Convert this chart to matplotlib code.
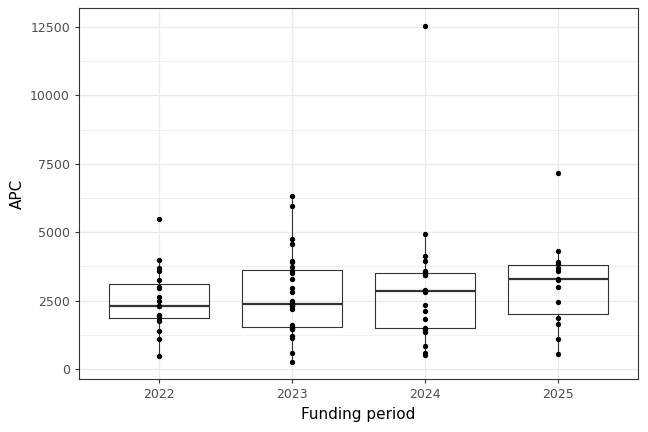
import numpy as np
import matplotlib.pyplot as plt

periods = ['2022', '2023', '2024', '2025']
apc_2022 = [5480, 3980, 3700, 3600, 3250, 3000, 2950, 2630, 2500, 2300, 2300, 1970, 1900, 1800, 1750, 1940, 1390, 1100, 480]
apc_2023 = [6320, 5960, 4750, 4570, 3950, 3900, 3730, 3600, 3500, 3300, 2950, 2800, 2500, 2400, 2380, 2350,
            2320, 2300, 2200, 1600, 1550, 1500, 1480, 1450, 1200, 1150, 590, 260]
apc_2024 = [12540, 4930, 4130, 3950, 3600, 3550, 3500, 3440, 3420, 2880, 2860, 2850, 2840, 2820,
            2340, 2120, 1830, 1500, 1460, 1400, 1350, 840, 600, 500]
apc_2025 = [7170, 4310, 3910, 3850, 3700, 3600, 3300, 3250, 3000, 2450, 1860, 1650, 1100, 550]
data = [apc_2022, apc_2023, apc_2024, apc_2025]

fig = plt.figure(figsize=(6.48, 4.32), dpi=100)
ax = fig.add_axes([79/648, 1 - 379/432, (638-79)/648, (379-8)/432])

pos = np.arange(1, 5)
ax.boxplot(data, positions=pos, widths=0.75, showfliers=False, whis=1.5,
           boxprops=dict(color='#333333', linewidth=0.8),
           whiskerprops=dict(color='#333333', linewidth=0.8),
           capprops=dict(linewidth=0),
           medianprops=dict(color='#333333', linewidth=1.6))
for p, vals in zip(pos, data):
    ax.scatter([p] * len(vals), vals, s=8, color='black', zorder=3)

ax.set_xlim(0.4, 4.6)
ax.set_ylim(-365, 13195)
ax.set_xticks(pos)
ax.set_xticklabels(periods)
ax.set_yticks([0, 2500, 5000, 7500, 10000, 12500])
ax.set_yticks([1250, 3750, 6250, 8750, 11250], minor=True)
ax.grid(True, which='major', color='#ebebeb', linewidth=1.0)
ax.grid(True, which='minor', axis='y', color='#ebebeb', linewidth=0.5)
ax.set_axisbelow(True)
for s in ax.spines.values():
    s.set_color('#333333')
    s.set_linewidth(0.8)
ax.tick_params(which='major', colors='#333333', length=3, labelsize=9, labelcolor='#4d4d4d')
ax.tick_params(which='minor', length=0)
ax.set_xlabel('Funding period', fontsize=11)
ax.set_ylabel('APC', fontsize=11)
fig.savefig('out.png', dpi=100)
